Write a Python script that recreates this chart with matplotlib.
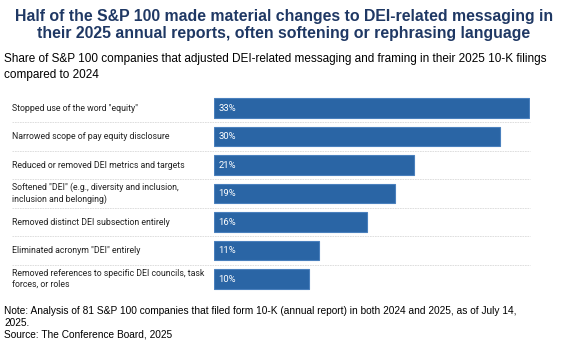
import matplotlib.pyplot as plt
from matplotlib.transforms import blended_transform_factory

categories = [
    'Stopped use of the word "equity"',
    'Narrowed scope of pay equity disclosure',
    'Reduced or removed DEI metrics and targets',
    'Softened "DEI" (e.g., diversity and inclusion,\ninclusion and belonging)',
    'Removed distinct DEI subsection entirely',
    'Eliminated acronym "DEI" entirely',
    'Removed references to specific DEI councils, task\nforces, or roles',
]
values = [33, 30, 21, 19, 16, 11, 10]

W, H = 568, 349
fig = plt.figure(figsize=(W / 100, H / 100), dpi=100)

# axes placed in pixel terms
x0, x1 = 214, 530
y_top, y_bot = 93.75, 293.25
ax = fig.add_axes([x0 / W, 1 - y_bot / H, (x1 - x0) / W, (y_bot - y_top) / H])

pos = list(range(len(values)))
ax.barh(pos, values, height=0.7, color='#2a65a5', edgecolor='#4a80bd', linewidth=0.8)
ax.set_xlim(0, 33.1)
ax.set_ylim(len(values) - 0.5, -0.5)
ax.axis('off')

for i, v in enumerate(values):
    ax.text(0.45, i, f'{v}%', color='white', va='center', ha='left',
            fontsize=6.8, family='Roboto')

trans = blended_transform_factory(ax.transAxes, ax.transData)
left_frac = (12 - x0) / (x1 - x0)
for i, lab in enumerate(categories):
    ax.text(left_frac, i, lab, transform=trans, va='center', ha='left',
            fontsize=6.3, family='Roboto', color='#222222', linespacing=1.3)
    if i < len(values) - 1:
        ax.plot([left_frac, 1.0], [i + 0.5, i + 0.5], transform=trans,
                color='#d9d9d9', linewidth=0.6, linestyle=(0, (2, 1)), clip_on=False)

fig.text(0.5, 1 - 25 / H,
         'Half of the S&P 100 made material changes to DEI-related messaging in\n'
         'their 2025 annual reports, often softening or rephrasing language',
         ha='center', va='center', fontsize=11.4, fontweight='bold',
         color='#1f3864', family='Liberation Sans', linespacing=1.15)
fig.text(4 / W, 1 - 67 / H,
         'Share of S&P 100 companies that adjusted DEI-related messaging and framing in their 2025 10-K filings\n'
         'compared to 2024',
         ha='left', va='center', fontsize=8.45, color='black',
         family='Liberation Sans', linespacing=1.35)
fig.text(4 / W, 1 - 323 / H,
         'Note: Analysis of 81 S&P 100 companies that filed form 10-K (annual report) in both 2024 and 2025, as of July 14,\n'
         '2025.\nSource: The Conference Board, 2025',
         ha='left', va='center', fontsize=7.3, color='black',
         family='Liberation Sans', linespacing=1.2)

fig.savefig('out.png', dpi=100)
